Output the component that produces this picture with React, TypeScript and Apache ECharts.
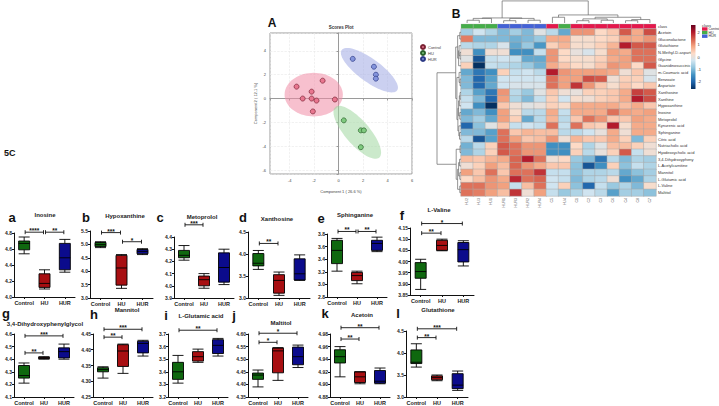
import React, { useEffect, useRef } from "react";
import * as echarts from "echarts";

const FONT = '"Liberation Sans", Arial, sans-serif';
const groups = ["Control", "HU", "HUR"];

// ---------- A: scores plot ----------
const controlScores = [[-1.3, 1.5], [-3.43, 1.0], [-2.2, 0.58], [-2.93, 0], [-2.2, 0], [-1.8, -0.17], [-0.3, -0.08], [-2.1, -1.08]];
const huScores = [[0.43, -1.83], [1.82, -2.67], [2.07, -2.67], [1.82, -4.08]];
const hurScores = [[1.16, 3.33], [2.89, 2.67], [3.05, 2.0], [3.05, 1.67]];
// [cx, cy, semiMajor, semiMinor, angleDeg]
const ellipseControl = [-2.03, 0.33, 2.38, 1.83, 0];
const ellipseHU = [1.53, -2.83, 2.78, 1.0, -50];
const ellipseHUR = [2.52, 2.38, 2.83, 0.95, -37];
const scoreColors = { Control: "#e8768f", HU: "#7fca7f", HUR: "#8494dc" };
const scoreBorders = { Control: "#7a2233", HU: "#2a612a", HUR: "#2c3a85" };
const ellipseFills = { Control: "rgba(241,140,165,0.55)", HU: "rgba(160,215,160,0.55)", HUR: "rgba(160,170,228,0.55)" };

// ---------- B: heatmap ----------
const columns = ["HU2", "HU3", "HU1", "HUR1", "HUR3", "HUR2", "HUR4", "C5", "HU4", "C1", "C2", "C3", "C6", "C4", "C8", "C7"];
const columnClass = ["HU", "HU", "HU", "HUR", "HUR", "HUR", "HUR", "Control", "HU", "Control", "Control", "Control", "Control", "Control", "Control", "Control"];
const classColors = { Control: "#e4184c", HU: "#45ad49", HUR: "#4462d6" };
const rows = ["Acetoin", "Gluconolactone", "Glutathione", "N-Methyl-D-aspartic", "Glycine", "Guanidinosuccinic", "m-Coumaric acid", "Benzoate", "Aspartate", "Xanthosine", "Xanthine", "Hypoxanthine", "Inosine", "Metoprolol", "Kynurenic acid", "Sphinganine", "Citric acid", "Nutriacholic acid", "Hyodeoxycholic acid", "3,4-Dihydroxypheny", "L-Acetylcarnitine", "Mannitol", "L-Glutamic acid", "L-Valine", "Maltitol"];
const heatValues = [
  [-0.7, -0.3, -0.6, -1.0, -0.7, -1.0, -0.1, -0.5, -1.2, 1.0, 1.0, 0.3, 0.5, 1.5, 0.8, 1.6],
  [1.2, -1.0, -1.0, -1.0, -1.1, -1.0, -0.8, 0.8, 0.8, 0.2, 0.2, 0.3, 0.4, 0.9, 0.8, 1.0],
  [-0.5, -0.6, -0.6, -0.2, -1.2, -0.8, -1.4, 0.4, 0.7, 0.2, 0.2, 0.4, 0.7, 2.0, 1.5, 1.5],
  [0.1, -1.5, 0.1, 0.1, -1.5, -1.5, -0.4, 1.0, 0.3, 0.0, -0.2, 0.2, 0.9, 0.8, 1.3, 1.3],
  [-0.1, -2.2, -0.4, -0.3, -0.4, -1.2, -1.2, 1.0, 0.3, 0.2, 0.2, 0.4, 0.8, 0.9, 1.3, 1.3],
  [0.4, -2.6, -0.4, -0.5, -0.6, -0.8, -1.1, 0.8, 0.5, 0.3, 0.2, 0.5, 1.0, 0.9, 0.3, 1.5],
  [-1.2, -1.8, -1.5, 0.4, -0.4, -0.3, -0.5, 2.0, 1.0, 0.9, 0.9, 0.9, 0.8, 0.1, 0.5, -0.1],
  [-1.0, -2.0, -1.3, -0.3, -0.3, -0.3, -0.3, 1.3, 0.9, 0.9, 1.6, 1.5, 0.1, 0.4, 0.4, -0.2],
  [-1.0, -2.0, -1.2, -0.3, -0.2, -0.2, -0.2, 1.3, 0.9, 1.8, 1.0, 0.5, 0.2, 0.5, 0.3, 0.5],
  [-0.6, -1.3, -1.8, 1.0, -0.5, -0.8, -0.1, 0.5, 0.1, 0.0, 0.4, 0.4, 0.5, 0.8, 1.7, 1.5],
  [-0.4, -1.0, -2.0, 0.9, -0.6, -1.0, -0.4, 0.4, -0.3, 0.2, 0.1, 0.4, 0.5, 0.8, 2.0, 1.6],
  [-0.3, -1.5, -2.6, 0.5, 0.1, -0.1, 0.0, 0.4, 0.2, 0.8, 0.8, 0.8, 0.8, 0.6, 0.8, 0.5],
  [-1.2, -1.0, -1.5, 0.9, 0.2, -0.5, -0.5, 0.8, -0.4, 0.8, 0.8, 0.8, 1.3, 0.9, 0.8, 0.9],
  [-1.0, -0.7, -1.2, 0.9, 0.4, -1.2, -0.5, 0.7, -0.5, 0.5, 1.3, 1.0, 0.5, 0.5, 0.9, 0.8],
  [-2.0, -0.9, -0.1, 0.5, -0.4, -0.3, -0.4, 1.3, -0.4, 1.3, 0.5, 0.4, 2.0, 0.2, 0.8, 0.8],
  [-1.0, -1.0, -1.3, 1.3, 0.5, 0.7, 0.6, 0.6, -0.5, -0.5, -0.3, 0.0, 0.8, 0.1, 0.8, 0.8],
  [-0.5, -2.2, -1.3, 1.3, 0.9, 0.5, 0.6, 1.0, 0.1, 0.7, 0.5, 0.5, 0.8, 0.4, -1.0, 0.4],
  [-1.1, -0.5, 0.4, 1.5, 1.3, 1.0, 1.0, -1.5, -1.5, 0.3, -0.6, -0.1, 0.6, 0.6, 0.4, 0.1],
  [-1.0, -0.6, 0.4, 1.5, 1.3, 1.0, 1.0, -1.5, -1.5, 0.4, -0.5, 0.0, 0.4, 1.5, -0.4, 0.1],
  [0.6, 0.5, 0.7, 0.8, 1.4, 2.0, 1.3, 0.1, 0.3, -0.8, -1.0, -1.8, -0.5, -1.0, -0.6, -0.7],
  [0.1, 0.4, 0.9, 0.6, 1.4, 1.0, 0.8, 0.5, 0.5, -0.9, -2.2, -1.5, 0.4, -0.9, -0.4, -0.6],
  [0.9, 0.5, 1.3, 0.5, 1.3, 1.3, 1.8, -0.4, -0.4, -0.9, -0.6, -0.6, -0.5, -1.2, -0.9, -0.7],
  [0.3, 0.6, 1.0, 0.8, 1.9, 1.3, 1.4, -0.3, -0.4, -1.0, -0.6, -0.5, 0.1, -1.5, -1.2, -0.6],
  [1.3, 1.3, 1.0, 0.9, -0.4, 0.6, 1.3, -0.3, 0.4, -0.9, -2.0, -0.4, -0.8, -0.6, -1.0, 0.2],
  [1.3, 1.2, 0.9, 0.6, 1.8, 0.1, 0.9, -0.4, -0.8, -0.6, -0.3, -0.5, -1.3, -0.7, -0.7, -0.9],
];
const colorbarTicks = [-2, -1, 0, 1, 2];
// dendrogram links: [pos1, pos2, height1, height2, joinHeight]
const colLinks = [
  [0, 1, 0, 0, 0.12], [0.5, 2, 0.12, 0, 0.2], [3, 4, 0, 0, 0.1], [5, 6, 0, 0, 0.12],
  [3.5, 5.5, 0.1, 0.12, 0.2], [1.25, 4.5, 0.2, 0.2, 0.22], [7, 8, 0, 0, 0.25], [9, 10, 0, 0, 0.1],
  [11, 12, 0, 0, 0.12], [9.5, 11.5, 0.1, 0.12, 0.18], [13, 14, 0, 0, 0.1], [13.5, 15, 0.1, 0, 0.15],
  [10.5, 14.25, 0.18, 0.15, 0.25], [7.5, 12.375, 0.25, 0.25, 0.35], [2.875, 9.94, 0.22, 0.35, 0.96],
];
const rowLinks = [
  [0, 1, 0, 0, 0.05], [3, 4, 0, 0, 0.04], [2, 3.5, 0, 0.04, 0.08], [2.75, 5, 0.08, 0, 0.1],
  [0.5, 3.875, 0.05, 0.1, 0.14], [7, 8, 0, 0, 0.04], [6, 7.5, 0, 0.04, 0.08], [9, 10, 0, 0, 0.04],
  [9.5, 11, 0.04, 0, 0.07], [12, 13, 0, 0, 0.05], [10.25, 12.5, 0.07, 0.05, 0.1], [15, 16, 0, 0, 0.06],
  [14, 15.5, 0, 0.06, 0.09], [11.375, 14.75, 0.1, 0.09, 0.13], [6.75, 13.06, 0.08, 0.13, 0.17],
  [2.19, 9.9, 0.14, 0.17, 0.22], [17, 18, 0, 0, 0.04], [19, 20, 0, 0, 0.06], [21, 22, 0, 0, 0.05],
  [19.5, 21.5, 0.06, 0.05, 0.1], [23, 24, 0, 0, 0.05], [20.5, 23.5, 0.1, 0.05, 0.14],
  [17.5, 22, 0.04, 0.14, 0.2], [6.05, 19.75, 0.22, 0.2, 1.0],
];
const RDBU = ["#053061", "#2166ac", "#4393c3", "#92c5de", "#d1e5f0", "#fddbc7", "#f4a582", "#d6604d", "#b2182b", "#67001f"];

// ---------- 5C: box plots [min, Q1, median, Q3, max] per group ----------
const inosine = [[4.54, 4.59, 4.67, 4.70, 4.75], [4.10, 4.12, 4.17, 4.29, 4.34], [4.31, 4.34, 4.49, 4.67, 4.72]];
const hypoxanthine = [[4.88, 4.92, 4.99, 5.07, 5.10], [3.36, 3.48, 4.12, 4.59, 4.62], [4.62, 4.65, 4.74, 4.81, 4.84]];
const metoprolol = [[4.21, 4.23, 4.25, 4.29, 4.33], [3.98, 4.00, 4.05, 4.08, 4.10], [4.01, 4.03, 4.15, 4.27, 4.30]];
const xanthosine = [[3.65, 3.73, 3.79, 4.01, 4.08], [3.06, 3.11, 3.40, 3.53, 3.59], [3.40, 3.41, 3.55, 3.89, 3.98]];
const sphinganine = [[3.21, 3.33, 3.54, 3.70, 3.73], [3.01, 3.06, 3.14, 3.19, 3.21], [3.52, 3.54, 3.65, 3.70, 3.75]];
const valine = [[3.875, 3.925, 3.955, 3.995, 4.01], [4.048, 4.05, 4.072, 4.095, 4.10], [3.98, 3.998, 4.053, 4.085, 4.093]];
const dhpg = [[4.21, 4.25, 4.27, 4.35, 4.37], [4.40, 4.405, 4.41, 4.415, 4.42], [4.40, 4.41, 4.46, 4.49, 4.52]];
const mannitol = [[4.31, 4.33, 4.337, 4.343, 4.346], [4.325, 4.347, 4.396, 4.416, 4.418], [4.38, 4.39, 4.42, 4.427, 4.43]];
const glutamic = [[3.31, 3.34, 3.40, 3.475, 3.53], [3.475, 3.485, 3.52, 3.56, 3.58], [3.525, 3.545, 3.61, 3.655, 3.665]];
const maltitol = [[4.39, 4.42, 4.437, 4.445, 4.457], [4.416, 4.446, 4.533, 4.544, 4.546], [4.467, 4.478, 4.51, 4.548, 4.556]];
const acetoin = [[4.912, 4.934, 4.944, 4.955, 4.96], [4.901, 4.903, 4.912, 4.92, 4.92], [4.901, 4.902, 4.905, 4.922, 4.926]];
const glutathione = [[3.68, 3.76, 3.79, 4.07, 4.21], [3.37, 3.39, 3.44, 3.48, 3.50], [3.15, 3.19, 3.27, 3.53, 3.59]];
// significance brackets: [fromGroup, toGroup, value, label]
const sigInosine = [[0, 1, 4.81, "****"], [1, 2, 4.81, "**"]];
const sigHypoxanthine = [[0, 1, 5.44, "***"], [1, 2, 5.1, "*"]];
const sigMetoprolol = [[0, 1, 4.5, "***"]];
const sigXanthosine = [[0, 1, 4.24, "**"]];
const sigSphinganine = [[0, 1, 3.84, "**"], [1, 2, 3.84, "**"]];
const sigValine = [[0, 1, 4.127, "**"], [0, 2, 4.17, "*"]];
const sigDhpg = [[0, 2, 4.585, "***"], [0, 1, 4.45, "**"]];
const sigMannitol = [[0, 2, 4.465, "***"], [0, 1, 4.44, "**"]];
const sigGlutamic = [[0, 2, 3.73, "**"]];
const sigMaltitol = [[0, 2, 4.603, "*"], [0, 1, 4.567, "*"]];
const sigAcetoin = [[0, 2, 4.99, "**"], [0, 1, 4.972, "**"]];
const sigGlutathione = [[0, 2, 4.55, "***"], [0, 1, 4.35, "**"]];
const boxFills = ["#0f680f", "#a80f12", "#0b0b8c"];

const panels = [
  { letter: "a", title: "Inosine", data: inosine, sig: sigInosine, min: 4.0, max: 4.8, interval: 0.2, digits: 1, left: 14, width: 61, top: 233, bottom: 297, lx: 12, ly: 217, tx: 45, ty: 215 },
  { letter: "b", title: "Hypoxanthine", data: hypoxanthine, sig: sigHypoxanthine, min: 3.0, max: 5.5, interval: 0.5, digits: 1, left: 90, width: 63, top: 231, bottom: 298, lx: 86, ly: 217, tx: 125, ty: 216 },
  { letter: "c", title: "Metoprolol", data: metoprolol, sig: sigMetoprolol, min: 3.9, max: 4.4, interval: 0.1, digits: 1, left: 174, width: 60, top: 237, bottom: 298, lx: 160, ly: 217, tx: 202, ty: 217 },
  { letter: "d", title: "Xanthosine", data: xanthosine, sig: sigXanthosine, min: 3.0, max: 4.5, interval: 0.5, digits: 1, left: 248, width: 62, top: 232, bottom: 298, lx: 243, ly: 217, tx: 277, ty: 219 },
  { letter: "e", title: "Sphinganine", data: sphinganine, sig: sigSphinganine, min: 2.8, max: 3.8, interval: 0.2, digits: 1, left: 327, width: 60, top: 234, bottom: 297, lx: 321, ly: 218, tx: 355, ty: 215 },
  { letter: "f", title: "L-Valine", data: valine, sig: sigValine, min: 3.85, max: 4.15, interval: 0.05, digits: 2, left: 410, width: 64, top: 228, bottom: 295, lx: 402, ly: 215, tx: 439, ty: 210 },
  { letter: "g", title: "3,4-Dihydroxyphenylglycol", data: dhpg, sig: sigDhpg, min: 4.1, max: 4.6, interval: 0.1, digits: 1, left: 14, width: 60, top: 334, bottom: 398, lx: 6, ly: 313, tx: 45, ty: 324 },
  { letter: "h", title: "Mannitol", data: mannitol, sig: sigMannitol, min: 4.25, max: 4.45, interval: 0.05, digits: 2, left: 93, width: 60, top: 334, bottom: 399, lx: 94, ly: 314, tx: 127, ty: 310 },
  { letter: "i", title: "L-Glutamic acid", data: glutamic, sig: sigGlutamic, min: 3.2, max: 3.7, interval: 0.1, digits: 1, left: 168, width: 60, top: 334, bottom: 398, lx: 166, ly: 315, tx: 201, ty: 316 },
  { letter: "j", title: "Maltitol", data: maltitol, sig: sigMaltitol, min: 4.35, max: 4.6, interval: 0.05, digits: 2, left: 248, width: 60, top: 334, bottom: 398, lx: 234, ly: 315, tx: 281, ty: 323 },
  { letter: "k", title: "Acetoin", data: acetoin, sig: sigAcetoin, min: 4.88, max: 4.98, interval: 0.02, digits: 2, left: 330, width: 60, top: 334, bottom: 398, lx: 325, ly: 313, tx: 362, ty: 315 },
  { letter: "l", title: "Glutathione", data: glutathione, sig: sigGlutathione, min: 3.0, max: 4.5, interval: 0.5, digits: 1, left: 406, width: 62, top: 331, bottom: 397, lx: 398, ly: 313, tx: 438, ty: 310 },
];

function intLabel(v: number) {
  const r = Math.round(v);
  return Math.abs(v - r) < 1e-6 ? String(r) : "";
}

function buildOption() {
  const grid: any[] = [];
  const xAxis: any[] = [];
  const yAxis: any[] = [];
  const series: any[] = [];
  const graphic: any[] = [];
  const hidden = { show: false };

  // grid 0: scores plot
  grid.push({ left: 270, top: 33, width: 142, height: 141, show: true, borderColor: "#9a9a9a", borderWidth: 1 });
  xAxis.push({
    gridIndex: 0, type: "value", min: -5.6, max: 6, splitNumber: 6,
    axisLine: { show: true, lineStyle: { color: "#9a9a9a" } },
    axisTick: { show: true, length: 2, lineStyle: { color: "#9a9a9a" } },
    axisLabel: { fontSize: 4, margin: 4, color: "#444", formatter: intLabel },
    splitLine: { show: true, lineStyle: { color: "#e8e8e8", type: "dashed", width: 0.6 } },
    name: "Component 1 ( 26.6 %)", nameLocation: "middle", nameGap: 15, nameTextStyle: { fontSize: 4, color: "#444" },
  });
  yAxis.push({
    gridIndex: 0, type: "value", min: -6.33, max: 5.5, splitNumber: 6,
    axisLine: { show: true, lineStyle: { color: "#9a9a9a" } },
    axisTick: { show: true, length: 2, lineStyle: { color: "#9a9a9a" } },
    axisLabel: { fontSize: 4, margin: 4, color: "#444", formatter: intLabel },
    splitLine: { show: true, lineStyle: { color: "#e8e8e8", type: "dashed", width: 0.6 } },
    name: "Component 2 ( 12.1 %)", nameLocation: "middle", nameGap: 13, nameTextStyle: { fontSize: 4, color: "#444" },
  });
  const ellipses: [string, number[]][] = [["Control", ellipseControl], ["HU", ellipseHU], ["HUR", ellipseHUR]];
  ellipses.forEach(([g, e]) => {
    series.push({
      type: "custom", xAxisIndex: 0, yAxisIndex: 0, silent: true, z: 1, data: [e],
      renderItem: (params: any, api: any) => {
        const cx = api.value(0), cy = api.value(1), a = api.value(2), b = api.value(3);
        const th = (api.value(4) * Math.PI) / 180;
        const pts: number[][] = [];
        for (let k = 0; k < 72; k++) {
          const t = (k / 72) * Math.PI * 2;
          const x = cx + a * Math.cos(t) * Math.cos(th) - b * Math.sin(t) * Math.sin(th);
          const y = cy + a * Math.cos(t) * Math.sin(th) + b * Math.sin(t) * Math.cos(th);
          pts.push(api.coord([x, y]));
        }
        return { type: "polygon", shape: { points: pts }, style: { fill: (ellipseFills as any)[g], stroke: "none" } };
      },
    });
  });
  const scoreSets: [string, number[][]][] = [["Control", controlScores], ["HU", huScores], ["HUR", hurScores]];
  scoreSets.forEach(([g, d]) => {
    series.push({
      name: g, type: "scatter", xAxisIndex: 0, yAxisIndex: 0, z: 3, symbolSize: 5, data: d, silent: true,
      itemStyle: { color: (scoreColors as any)[g], borderColor: (scoreBorders as any)[g], borderWidth: 0.7, opacity: 1 },
    });
  });

  // grid 1: heatmap
  grid.push({ left: 461, top: 29, width: 195, height: 167 });
  xAxis.push({
    gridIndex: 1, type: "category", data: columns, axisLine: hidden, axisTick: hidden, splitLine: hidden,
    axisLabel: { fontSize: 3.5, rotate: 90, margin: 2, color: "#555", interval: 0 },
  });
  yAxis.push({
    gridIndex: 1, type: "category", data: rows, inverse: true, position: "right", axisLine: hidden, axisTick: hidden, splitLine: hidden,
    axisLabel: { fontSize: 4, margin: 2, color: "#333", interval: 0 },
  });
  const heatData: number[][] = [];
  heatValues.forEach((r, ri) => r.forEach((v, ci) => heatData.push([ci, ri, v])));
  const heatIndex = series.length;
  series.push({
    type: "heatmap", xAxisIndex: 1, yAxisIndex: 1, data: heatData, silent: true,
    itemStyle: { borderColor: "#a8a8a8", borderWidth: 0.5 },
  });

  // grid 2: class bar
  grid.push({ left: 461, top: 24, width: 195, height: 4.5 });
  xAxis.push({ gridIndex: 2, type: "category", data: columns, show: false });
  yAxis.push({
    gridIndex: 2, type: "category", data: ["class"], position: "right", axisLine: hidden, axisTick: hidden, splitLine: hidden,
    axisLabel: { fontSize: 4, margin: 2, color: "#333" },
  });
  series.push({
    type: "custom", xAxisIndex: 2, yAxisIndex: 2, silent: true, data: columns.map((_, i) => [i, 0]),
    renderItem: (params: any, api: any) => {
      const p = api.coord([api.value(0), api.value(1)]);
      const s = api.size([1, 1]);
      return {
        type: "rect", shape: { x: p[0] - s[0] / 2, y: p[1] - s[1] / 2, width: s[0], height: s[1] },
        style: { fill: (classColors as any)[columnClass[params.dataIndex]], stroke: "#aaa", lineWidth: 0.3 },
      };
    },
  });

  // grid 3: column dendrogram
  grid.push({ left: 461, top: 0, width: 195, height: 23 });
  xAxis.push({ gridIndex: 3, type: "value", min: -0.5, max: 15.5, show: false });
  yAxis.push({ gridIndex: 3, type: "value", min: 0, max: 1, show: false });
  series.push({
    type: "custom", xAxisIndex: 3, yAxisIndex: 3, silent: true, data: colLinks.map((l) => [(l[0] + l[1]) / 2, l[4]]),
    renderItem: (params: any, api: any) => {
      const l = colLinks[params.dataIndex];
      const pts = [[l[0], l[2]], [l[0], l[4]], [l[1], l[4]], [l[1], l[3]]].map((p) => api.coord(p));
      return { type: "polyline", shape: { points: pts }, style: { stroke: "#666", lineWidth: 0.7, fill: "none" } };
    },
  });

  // grid 4: row dendrogram
  grid.push({ left: 437, top: 29, width: 24, height: 167 });
  xAxis.push({ gridIndex: 4, type: "value", min: 0, max: 1, inverse: true, show: false });
  yAxis.push({ gridIndex: 4, type: "value", min: -0.5, max: 24.5, inverse: true, show: false });
  series.push({
    type: "custom", xAxisIndex: 4, yAxisIndex: 4, silent: true, data: rowLinks.map((l) => [l[4], (l[0] + l[1]) / 2]),
    renderItem: (params: any, api: any) => {
      const l = rowLinks[params.dataIndex];
      const pts = [[l[2], l[0]], [l[4], l[0]], [l[4], l[1]], [l[3], l[1]]].map((p) => api.coord(p));
      return { type: "polyline", shape: { points: pts }, style: { stroke: "#666", lineWidth: 0.7, fill: "none" } };
    },
  });

  // grid 5: colour bar
  grid.push({ left: 691, top: 20.1, width: 4.5, height: 73.8 });
  xAxis.push({ gridIndex: 5, type: "value", min: 0, max: 1, show: false });
  yAxis.push({
    gridIndex: 5, type: "value", min: -3, max: 3, interval: 1, position: "right",
    axisLine: hidden, axisTick: hidden, splitLine: hidden,
    axisLabel: { fontSize: 4, margin: 2, color: "#333", formatter: (v: number) => (colorbarTicks.indexOf(Math.round(v)) >= 0 && Math.abs(v - Math.round(v)) < 1e-6 ? String(Math.round(v)) : "") },
  });
  series.push({
    type: "custom", xAxisIndex: 5, yAxisIndex: 5, silent: true, data: [[0.5, 0]],
    renderItem: (params: any, api: any) => {
      const p1 = api.coord([0, 2.6]);
      const p2 = api.coord([1, -2.6]);
      const stops = RDBU.slice().reverse().map((c, i) => ({ offset: i / (RDBU.length - 1), color: c }));
      return {
        type: "rect", shape: { x: p1[0], y: p1[1], width: p2[0] - p1[0], height: p2[1] - p1[1] },
        style: { fill: new echarts.graphic.LinearGradient(0, 0, 0, 1, stops) },
      };
    },
  });

  // box plot panels
  panels.forEach((p, k) => {
    const gi = 6 + k;
    grid.push({ left: p.left, top: p.top, width: p.width, height: p.bottom - p.top });
    xAxis.push({
      gridIndex: gi, type: "category", data: groups,
      axisLine: { show: true, lineStyle: { color: "#111", width: 1 } },
      axisTick: { show: true, alignWithLabel: true, length: 2, lineStyle: { color: "#111" } },
      axisLabel: { fontSize: 5.5, fontWeight: "bold", color: "#222222", margin: 3, interval: 0 },
      splitLine: hidden,
    });
    yAxis.push({
      gridIndex: gi, type: "value", min: p.min, max: p.max, interval: p.interval,
      axisLine: { show: true, lineStyle: { color: "#111", width: 1 } },
      axisTick: { show: true, length: 2, lineStyle: { color: "#111" } },
      axisLabel: { fontSize: 5, fontWeight: "bold", color: "#222222", margin: 2, formatter: (v: number) => v.toFixed(p.digits) },
      splitLine: hidden,
    });
    series.push({
      type: "boxplot", xAxisIndex: gi, yAxisIndex: gi, silent: true, boxWidth: [11, 11],
      itemStyle: { borderColor: "#000", borderWidth: 0.9 },
      data: p.data.map((v, i) => ({ value: v, itemStyle: { color: boxFills[i], borderColor: "#000" } })),
    });
    const sig = p.sig as any[];
    series.push({
      type: "custom", xAxisIndex: gi, yAxisIndex: gi, silent: true, clip: false, z: 5,
      data: sig.map((s) => [(s[0] + s[1]) / 2, s[2]]),
      renderItem: (params: any, api: any) => {
        const s = sig[params.dataIndex];
        const a = api.coord([s[0], s[2]]);
        const b = api.coord([s[1], s[2]]);
        const x1 = a[0] + 1, x2 = b[0] - 1, y = a[1];
        return {
          type: "group",
          children: [
            { type: "line", shape: { x1, y1: y, x2, y2: y }, style: { stroke: "#111", lineWidth: 0.9 } },
            { type: "line", shape: { x1, y1: y - 2, x2: x1, y2: y + 2 }, style: { stroke: "#111", lineWidth: 0.9 } },
            { type: "line", shape: { x1: x2, y1: y - 2, x2, y2: y + 2 }, style: { stroke: "#111", lineWidth: 0.9 } },
            { type: "text", x: (x1 + x2) / 2, y: y + 2, style: { text: s[3], font: `bold 6.5px ${FONT}`, fill: "#111", align: "center", verticalAlign: "bottom" } },
          ],
        };
      },
    });
    graphic.push({ type: "text", x: p.lx, y: p.ly, style: { text: p.letter, font: `bold 13px ${FONT}`, fill: "#111", align: "center", verticalAlign: "middle" } });
    graphic.push({
      type: "text", x: p.tx, y: p.ty,
      style: { text: p.title, font: `bold 6px ${FONT}`, fill: "#222", align: "center", verticalAlign: "middle" },
    });
  });

  // headings / legends
  graphic.push({ type: "text", x: 272, y: 23, style: { text: "A", font: `bold 12px ${FONT}`, fill: "#111", align: "center", verticalAlign: "middle" } });
  graphic.push({ type: "text", x: 341, y: 27, style: { text: "Scores Plot", font: `bold 4.5px ${FONT}`, fill: "#333", align: "center", verticalAlign: "middle" } });
  graphic.push({ type: "text", x: 456, y: 14, style: { text: "B", font: `bold 12px ${FONT}`, fill: "#111", align: "center", verticalAlign: "middle" } });
  graphic.push({ type: "text", x: 4, y: 153, style: { text: "5C", font: `bold 9px ${FONT}`, fill: "#111", align: "left", verticalAlign: "middle" } });
  graphic.push({ type: "text", x: 702, y: 25, style: { text: "class", font: `4px ${FONT}`, fill: "#333", align: "left", verticalAlign: "middle" } });
  groups.forEach((g, i) => {
    graphic.push({ type: "rect", shape: { x: 702, y: 27.3 + i * 3.6, width: 5.5, height: 3.4 }, style: { fill: (classColors as any)[g] } });
    graphic.push({ type: "text", x: 708.5, y: 29 + i * 3.6, style: { text: g, font: `3.5px ${FONT}`, fill: "#333", align: "left", verticalAlign: "middle" } });
  });

  return {
    animation: false,
    backgroundColor: "#ffffff",
    textStyle: { fontFamily: FONT },
    legend: {
      data: groups, left: 415, top: 39, orient: "vertical", itemWidth: 4, itemHeight: 4, itemGap: 0,
      icon: "circle", textStyle: { fontSize: 4, color: "#444", padding: [0, 0, 0, -2] }, selectedMode: false,
    },
    visualMap: { type: "continuous", show: false, min: -2.6, max: 2.6, seriesIndex: [heatIndex], inRange: { color: RDBU } },
    grid, xAxis, yAxis, series, graphic,
  };
}

export default function App() {
  const ref = useRef<HTMLDivElement>(null);
  useEffect(() => {
    const chart = echarts.init(ref.current!, null, { renderer: "svg" });
    chart.setOption(buildOption() as any);
    return () => chart.dispose();
  }, []);
  return <div ref={ref} style={{ position: "fixed", left: 0, top: 0, width: 719, height: 406, background: "#fff" }} />;
}
